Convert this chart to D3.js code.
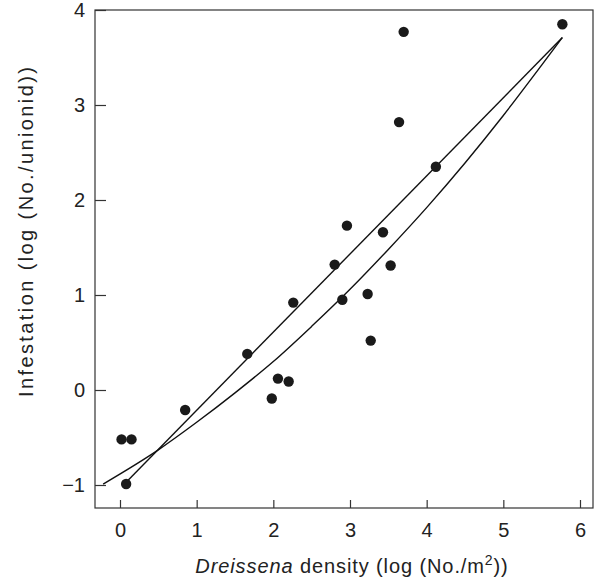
<!DOCTYPE html>
<html>
<head>
<meta charset="utf-8">
<script src="https://cdn.jsdelivr.net/npm/d3@7"></script>
<style>
  body { margin: 0; background: #fff; }
  text { font-family: "Liberation Sans", Arial, sans-serif; fill: #222; }
</style>
</head>
<body>
<div id="chart"></div>
<script>
var width = 596, height = 585;
var frameLeft = 95, frameRight = 593, frameTop = 10, frameBottom = 508; // frame edges

// observed points: log density vs log infestation
var densityX = [0.02, 0.15, 0.08, 0.85, 1.66, 1.98, 2.06, 2.20, 2.26, 2.80, 2.90, 2.96, 3.23, 3.27, 3.43, 3.53, 3.64, 3.70, 4.12, 5.77];
var infestY = [-0.52, -0.52, -0.99, -0.21, 0.38, -0.09, 0.12, 0.09, 0.92, 1.32, 0.95, 1.73, 1.01, 0.52, 1.66, 1.31, 2.82, 3.77, 2.35, 3.85];

// fitted line 1 (straight)
var lineAX = [0.08, 5.77];
var lineAY = [-0.97, 3.71];

// fitted line 2 (curved)
var lineBX = [-0.22, 0.5, 1.0, 1.5, 2.0, 2.5, 3.0, 3.5, 4.0, 4.5, 5.0, 5.5, 5.77];
var lineBY = [-0.99, -0.63, -0.34, -0.03, 0.30, 0.67, 1.06, 1.48, 1.92, 2.39, 2.89, 3.42, 3.71];

var xTicks = [0, 1, 2, 3, 4, 5, 6];
var yTicks = [-1, 0, 1, 2, 3, 4];

var x = d3.scaleLinear().domain([0, 6]).range([120, 580]);
var y = d3.scaleLinear().domain([0, 4]).range([390, 10]);

var svg = d3.select('#chart').append('svg')
    .attr('width', width)
    .attr('height', height);

// frame
svg.append('rect')
    .attr('x', frameLeft).attr('y', frameTop)
    .attr('width', frameRight - frameLeft).attr('height', frameBottom - frameTop)
    .attr('fill', 'none')
    .attr('stroke', '#333')
    .attr('stroke-width', 1.2);

// x axis ticks (inward) and labels
var xAxis = d3.axisBottom(x).tickValues(xTicks).tickSize(-8).tickPadding(15).tickFormat(d3.format('d'));
var gx = svg.append('g').attr('transform', 'translate(0,' + frameBottom + ')').call(xAxis);
gx.select('.domain').remove();
gx.selectAll('line').attr('stroke', '#333').attr('stroke-width', 1.2);
gx.selectAll('text').attr('font-size', 20).attr('fill', '#222');

// y axis ticks (inward) and labels
var yAxis = d3.axisLeft(y).tickValues(yTicks).tickSize(-11).tickPadding(10)
    .tickFormat(function (d) { return d < 0 ? '\u2212' + Math.abs(d) : d; });
var gy = svg.append('g').attr('transform', 'translate(' + frameLeft + ',0)').call(yAxis);
gy.select('.domain').remove();
gy.selectAll('line').attr('stroke', '#333').attr('stroke-width', 1.2);
gy.selectAll('text').attr('font-size', 20).attr('fill', '#222');
gx.attr('font-family', null);
gy.attr('font-family', null);

// fitted lines
var line = d3.line().x(function (d) { return x(d[0]); }).y(function (d) { return y(d[1]); });
svg.append('path')
    .datum(d3.zip(lineAX, lineAY))
    .attr('d', line)
    .attr('fill', 'none').attr('stroke', '#111').attr('stroke-width', 1.4);
svg.append('path')
    .datum(d3.zip(lineBX, lineBY))
    .attr('d', line.curve(d3.curveMonotoneX))
    .attr('fill', 'none').attr('stroke', '#111').attr('stroke-width', 1.4);

// points
svg.append('g').selectAll('circle').data(d3.zip(densityX, infestY)).enter().append('circle')
    .attr('cx', function (d) { return x(d[0]); })
    .attr('cy', function (d) { return y(d[1]); })
    .attr('r', 5.2)
    .attr('fill', '#1a1a1a');

// axis titles
var xt = svg.append('text')
    .attr('x', 352).attr('y', 573)
    .attr('text-anchor', 'middle')
    .attr('font-size', 20)
    .attr('letter-spacing', 0.9);
xt.append('tspan').attr('font-style', 'italic').text('Dreissena');
xt.append('tspan').text(' density (log (No./m');
xt.append('tspan').attr('font-size', 14).attr('dy', -8).text('2');
xt.append('tspan').attr('dy', 8).text('))');

svg.append('text')
    .attr('transform', 'translate(33,' + 232 + ') rotate(-90)')
    .attr('text-anchor', 'middle')
    .attr('font-size', 20)
    .attr('textLength', 330)
    .attr('lengthAdjust', 'spacing')
    .text('Infestation (log (No./unionid))');
</script>
</body>
</html>
